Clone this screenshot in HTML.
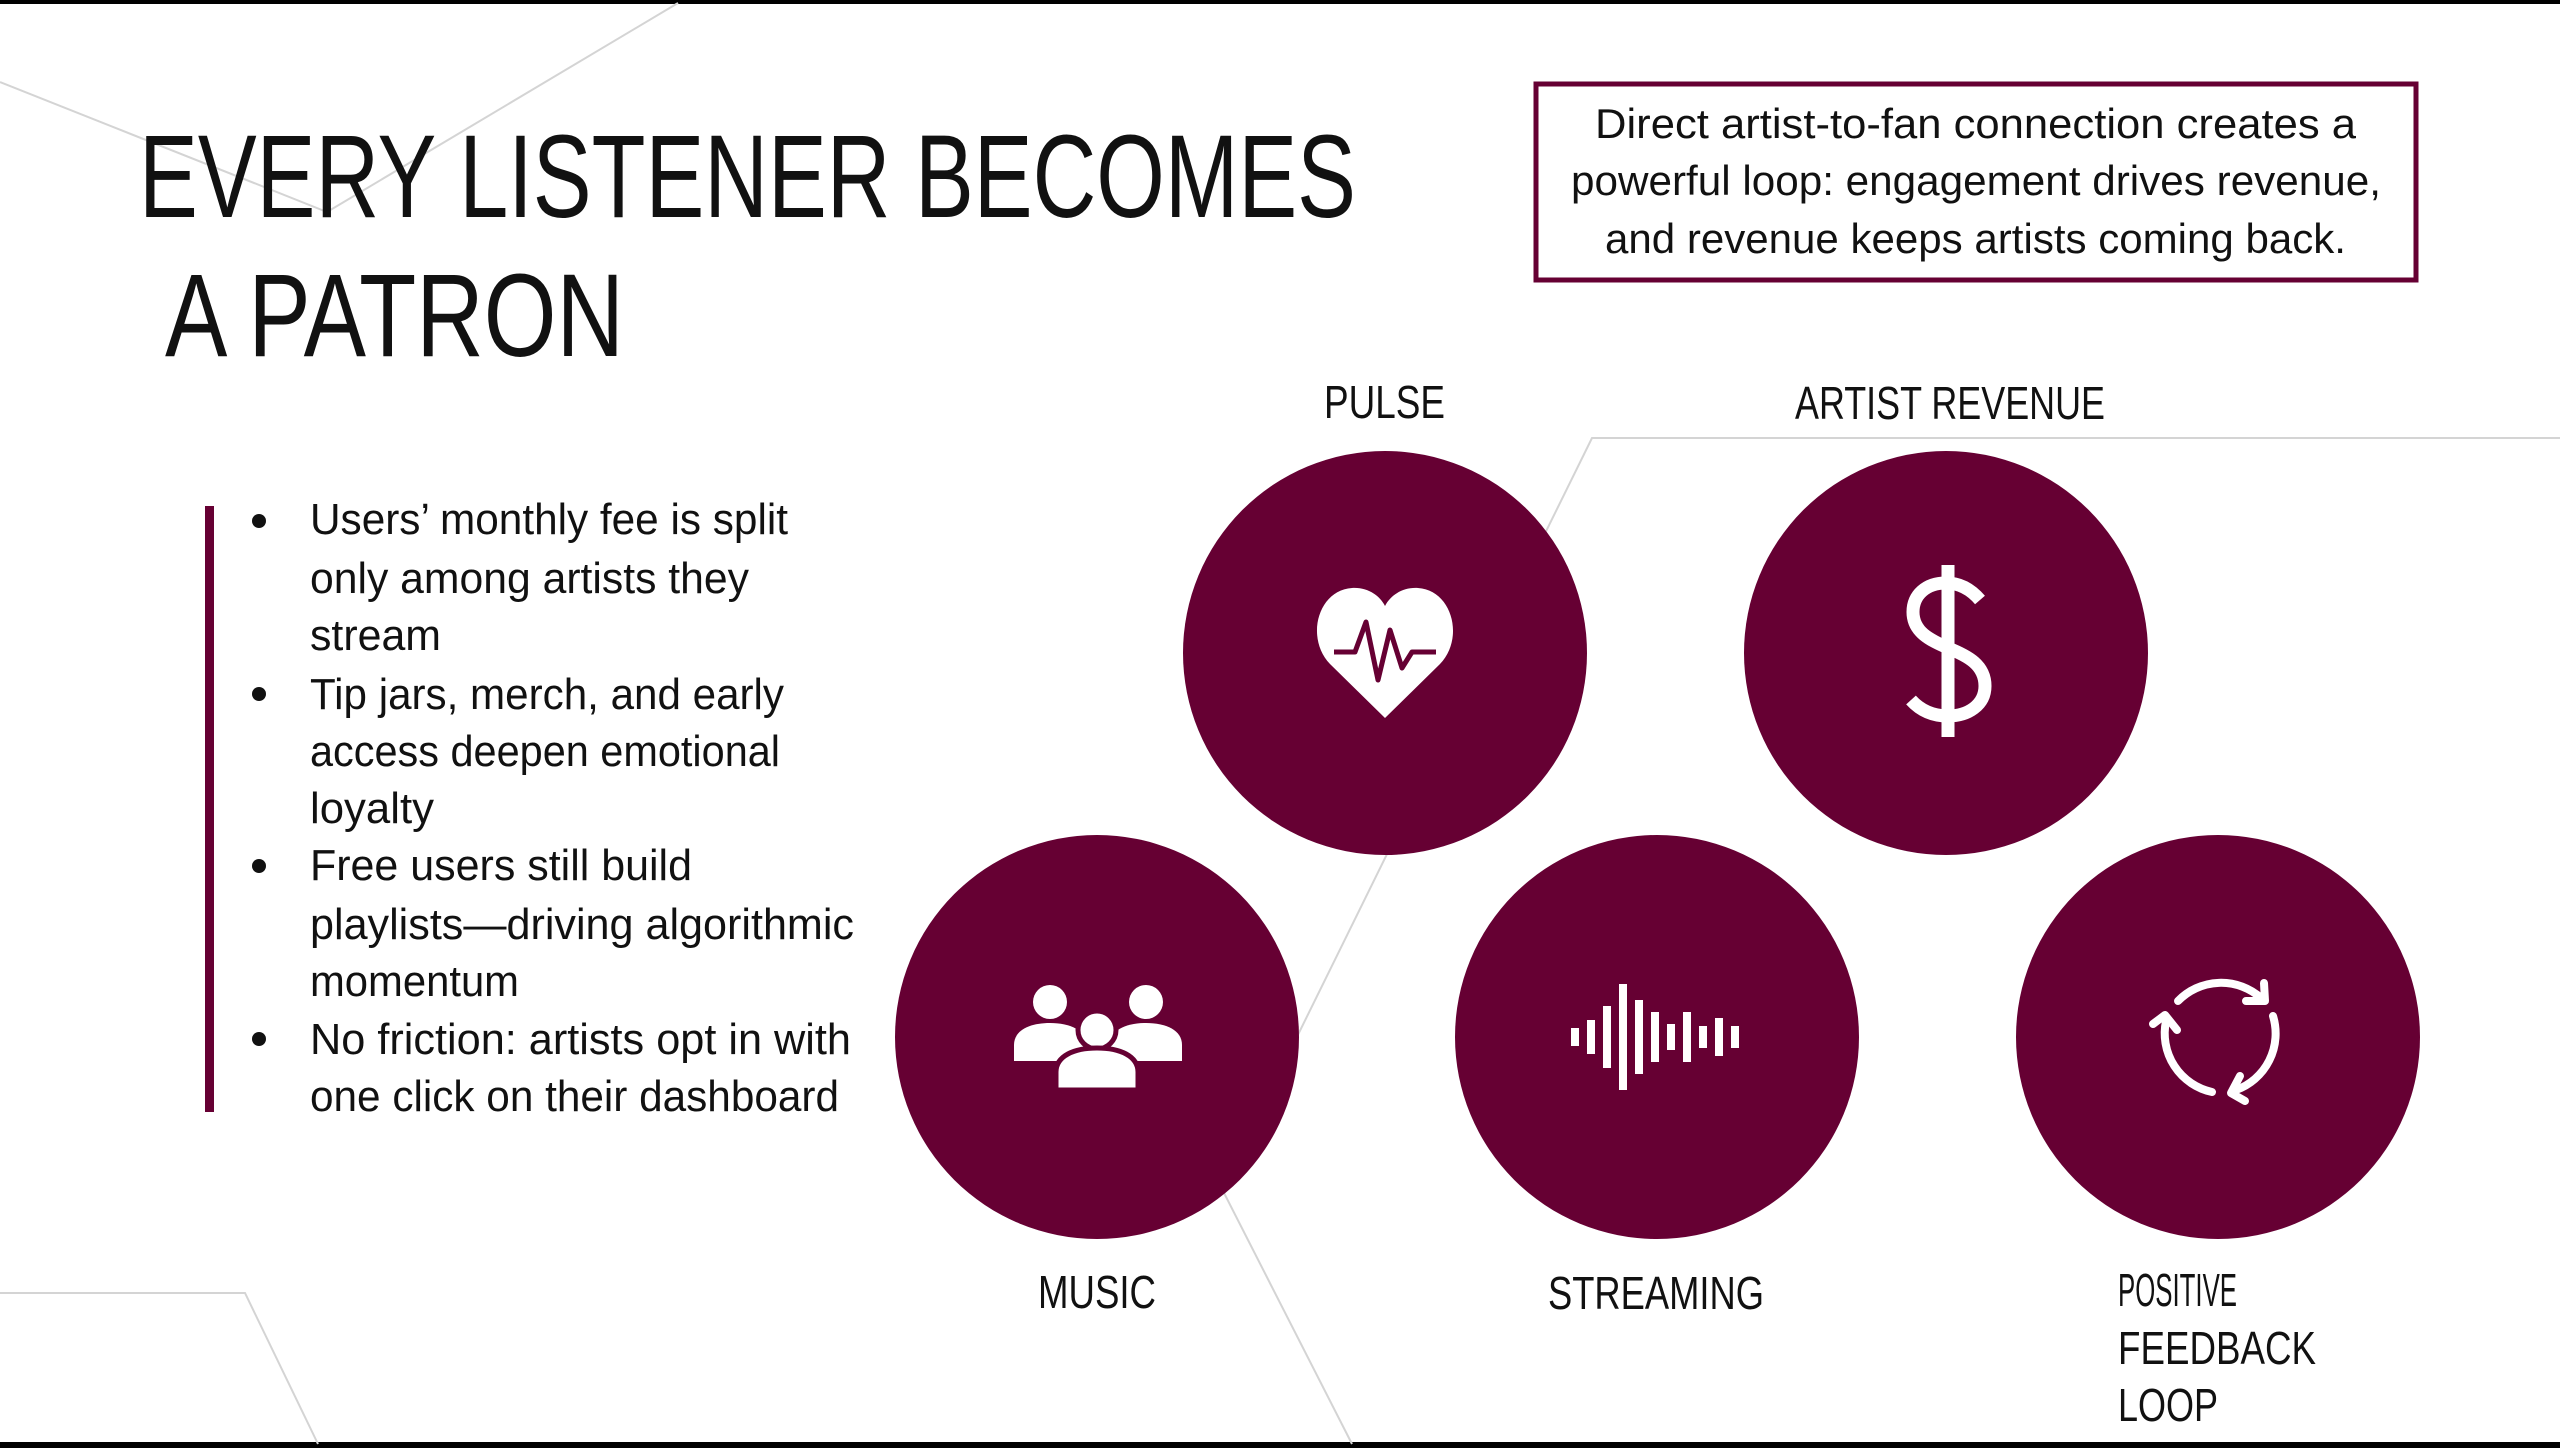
<!DOCTYPE html>
<html><head><meta charset="utf-8"><style>
html,body{margin:0;padding:0;background:#fff;}
svg{display:block;}
text{font-family:"Liberation Sans Narrow","Liberation Sans",sans-serif;fill:#111;}
</style></head><body>
<svg width="2560" height="1448" viewBox="0 0 2560 1448" xmlns="http://www.w3.org/2000/svg">
<rect x="0" y="0" width="2560" height="1448" fill="#fff"/>
<rect x="0" y="0" width="2560" height="4" fill="#000"/>
<rect x="0" y="1442" width="2560" height="6" fill="#000"/>
<g stroke="#d4d4d4" stroke-width="2" fill="none">
<polyline points="0,82 327,212 678,3"/>
<polyline points="2560,438 1592,438 1222,1189 1352,1444"/>
<polyline points="0,1293 245,1293 318,1444"/>
</g>
<text x="139" y="217" font-size="118" textLength="1217" lengthAdjust="spacingAndGlyphs">EVERY LISTENER BECOMES</text>
<text x="165" y="356" font-size="118" textLength="459" lengthAdjust="spacingAndGlyphs">A PATRON</text>
<rect x="1536" y="84" width="880" height="196" fill="#fff" stroke="#660033" stroke-width="5"/>
<g font-size="42">
<text x="1595" y="138" textLength="761" lengthAdjust="spacingAndGlyphs">Direct artist-to-fan connection creates a</text>
<text x="1571" y="195" textLength="810" lengthAdjust="spacingAndGlyphs">powerful loop: engagement drives revenue,</text>
<text x="1605" y="253" textLength="741" lengthAdjust="spacingAndGlyphs">and revenue keeps artists coming back.</text>
</g>
<rect x="205" y="506" width="9" height="606" fill="#660033"/>
<g font-size="44">
<circle cx="259" cy="521" r="7" fill="#111"/>
<circle cx="259" cy="694" r="7" fill="#111"/>
<circle cx="259" cy="866" r="7" fill="#111"/>
<circle cx="259" cy="1039" r="7" fill="#111"/>
<text x="310" y="534" textLength="478" lengthAdjust="spacingAndGlyphs">Users’ monthly fee is split</text>
<text x="310" y="593" textLength="439" lengthAdjust="spacingAndGlyphs">only among artists they</text>
<text x="310" y="650" textLength="131" lengthAdjust="spacingAndGlyphs">stream</text>
<text x="310" y="709" textLength="474" lengthAdjust="spacingAndGlyphs">Tip jars, merch, and early</text>
<text x="310" y="766" textLength="470" lengthAdjust="spacingAndGlyphs">access deepen emotional</text>
<text x="310" y="823" textLength="124" lengthAdjust="spacingAndGlyphs">loyalty</text>
<text x="310" y="880" textLength="382" lengthAdjust="spacingAndGlyphs">Free users still build</text>
<text x="310" y="939" textLength="544" lengthAdjust="spacingAndGlyphs">playlists—driving algorithmic</text>
<text x="310" y="996" textLength="209" lengthAdjust="spacingAndGlyphs">momentum</text>
<text x="310" y="1054" textLength="541" lengthAdjust="spacingAndGlyphs">No friction: artists opt in with</text>
<text x="310" y="1111" textLength="529" lengthAdjust="spacingAndGlyphs">one click on their dashboard</text>
</g>
<g fill="#660033">
<circle cx="1385" cy="653" r="202"/>
<circle cx="1946" cy="653" r="202"/>
<circle cx="1097" cy="1037" r="202"/>
<circle cx="1657" cy="1037" r="202"/>
<circle cx="2218" cy="1037" r="202"/>
</g>
<path d="M1385,718 L1330,664 C1305,638 1318,590 1352,588 C1368,587 1380,596 1385,606 C1390,596 1402,587 1418,588 C1452,590 1465,638 1440,664 Z" fill="#fff"/>
<polyline points="1334,652 1355,652 1366,622 1378,680 1390,630 1402,668 1412,652 1436,652" fill="none" stroke="#660033" stroke-width="5" stroke-linejoin="round"/>
<g fill="none" stroke="#fff" stroke-width="13">
<line x1="1948" y1="565" x2="1948" y2="737"/>
<path d="M1980,600 C1968,586 1956,583 1946,583 C1926,583 1913,595 1913,612 C1913,632 1930,640 1948,648 C1968,656 1985,665 1985,686 C1985,705 1968,716 1948,716 C1932,716 1920,710 1911,700"/>
</g>
<g fill="#fff">
<circle cx="1050" cy="1002" r="17"/>
<circle cx="1146" cy="1002" r="17"/>
<path d="M1014,1061 L1014,1045 C1014,1030 1030,1023 1050,1023 C1070,1023 1086,1030 1086,1045 L1086,1061 Z"/>
<path d="M1110,1061 L1110,1045 C1110,1030 1126,1023 1146,1023 C1166,1023 1182,1030 1182,1045 L1182,1061 Z"/>
<circle cx="1097" cy="1030" r="19" stroke="#660033" stroke-width="5"/>
<path d="M1056,1090 L1056,1072 C1056,1056 1074,1048 1097,1048 C1120,1048 1138,1056 1138,1072 L1138,1090 Z" stroke="#660033" stroke-width="5"/>
</g>
<g fill="#fff">
<rect x="1571" y="1028" width="8" height="18"/>
<rect x="1587" y="1020" width="8" height="34"/>
<rect x="1603" y="1006" width="8" height="62"/>
<rect x="1619" y="984" width="8" height="106"/>
<rect x="1635" y="1000" width="8" height="74"/>
<rect x="1651" y="1012" width="8" height="50"/>
<rect x="1667" y="1024" width="8" height="26"/>
<rect x="1683" y="1012" width="8" height="50"/>
<rect x="1699" y="1026" width="8" height="22"/>
<rect x="1715" y="1018" width="8" height="38"/>
<rect x="1731" y="1026" width="8" height="22"/>
</g>
<g fill="none" stroke="#fff" stroke-width="8" stroke-linecap="round" stroke-linejoin="round">
<path d="M2178,1001 A60,60 0 0 1 2261,998"/>
<polyline points="2264,983 2265,1001 2246,1001"/>
<path d="M2273,1016 A60,60 0 0 1 2236,1090"/>
<polyline points="2240,1076 2231,1093 2245,1101"/>
<path d="M2212,1092 A60,60 0 0 1 2166,1021"/>
<polyline points="2153,1024 2165,1015 2177,1030"/>
</g>
<g font-size="46">
<text x="1324" y="418" textLength="121" lengthAdjust="spacingAndGlyphs">PULSE</text>
<text x="1795" y="419" textLength="310" lengthAdjust="spacingAndGlyphs">ARTIST REVENUE</text>
<text x="1038" y="1308" textLength="118" lengthAdjust="spacingAndGlyphs">MUSIC</text>
<text x="1548" y="1309" textLength="216" lengthAdjust="spacingAndGlyphs">STREAMING</text>
<text x="2118" y="1306" textLength="119" lengthAdjust="spacingAndGlyphs">POSITIVE</text>
<text x="2118" y="1364" textLength="198" lengthAdjust="spacingAndGlyphs">FEEDBACK</text>
<text x="2118" y="1421" textLength="100" lengthAdjust="spacingAndGlyphs">LOOP</text>
</g>
</svg>
</body></html>
